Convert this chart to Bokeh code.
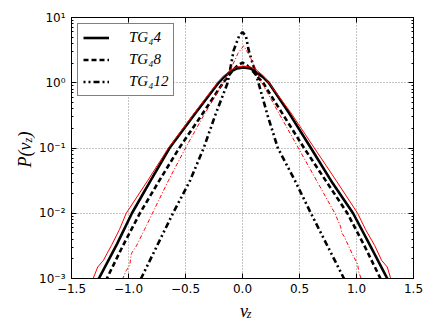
from bokeh.plotting import figure
from bokeh.layouts import row, column
from bokeh.models import (Range1d, LogAxis, LinearAxis, FixedTicker, CustomJSTickFormatter,
                          Legend, LegendItem)
from bokeh.core.properties import value
from bokeh.embed import file_html
from bokeh.resources import INLINE
import math

# ---- data ----
# TG4 4 (black solid)
v_tg4_4 = [-1.31, -1.26, -1.10, -0.97, -0.80, -0.64, -0.42, -0.21, -0.16, -0.10, -0.05, 0.01,
           0.07, 0.12, 0.18, 0.23, 0.41, 0.60, 0.79, 0.97, 1.12, 1.27, 1.31]
p_tg4_4 = [7.1e-4, 1.0e-3, 3.4e-3, 1.0e-2, 3.3e-2, 0.10, 0.33, 1.0, 1.24, 1.50, 1.65, 1.72,
           1.66, 1.45, 1.22, 1.0, 0.34, 0.10, 2.9e-2, 1.0e-2, 3.2e-3, 1.0e-3, 7.1e-4]

# TG4 8 (black dashed)
v_tg4_8 = [-1.23, -1.19, -1.05, -0.90, -0.73, -0.555, -0.36, -0.17, -0.08, -0.04, 0.0, 0.04,
           0.08, 0.18, 0.36, 0.54, 0.73, 0.92, 1.07, 1.21, 1.25]
p_tg4_8 = [7.1e-4, 1.0e-3, 3.16e-3, 1.0e-2, 3.16e-2, 0.10, 0.316, 1.0, 1.58, 1.85, 2.04, 1.85,
           1.58, 1.0, 0.316, 0.10, 3.16e-2, 1.0e-2, 3.16e-3, 1.0e-3, 7.1e-4]

# TG4 12 (black dash-dot-dot)
v_tg4_12 = [-0.93, -0.89, -0.75, -0.61, -0.46, -0.34, -0.24, -0.13, -0.077, -0.03, 0.0, 0.03,
            0.054, 0.14, 0.22, 0.31, 0.46, 0.60, 0.745, 0.89, 0.93]
p_tg4_12 = [7.1e-4, 1.0e-3, 3.16e-3, 1.0e-2, 3.16e-2, 0.10, 0.316, 1.0, 3.16, 5.2, 6.0, 5.2,
            3.16, 1.0, 0.316, 0.10, 3.16e-2, 1.0e-2, 3.16e-3, 1.0e-3, 7.1e-4]

# red solid (companion of TG4 4)
v_red_a = [-1.35, -1.31, -1.27, -1.22, -1.15, -1.08, -1.02, -0.83, -0.65, -0.43, -0.22, -0.16,
           -0.10, -0.05, 0.01, 0.07, 0.12, 0.18, 0.23, 0.42, 0.63, 0.82, 1.01, 1.08, 1.16, 1.22,
           1.27, 1.30, 1.34]
p_red_a = [7.1e-4, 1.0e-3, 1.5e-3, 1.9e-3, 3.2e-3, 5.6e-3, 1.0e-2, 3.2e-2, 0.10, 0.33, 1.0, 1.29,
           1.58, 1.74, 1.80, 1.74, 1.58, 1.29, 1.0, 0.355, 0.10, 3.2e-2, 1.0e-2, 5.6e-3, 3.2e-3,
           1.9e-3, 1.5e-3, 1.0e-3, 7.1e-4]

# red dash-dot (companion of TG4 12)
v_red_b = [-1.08, -1.05, -1.02, -0.99, -0.975, -0.95, -0.93, -0.86, -0.79, -0.65, -0.50, -0.34,
           -0.17, -0.09, -0.04, 0.01, 0.06, 0.11, 0.17, 0.33, 0.49, 0.65, 0.81, 0.86, 0.87, 0.89,
           0.93, 0.97, 1.01, 1.02, 1.04, 1.07]
p_red_b = [7.1e-4, 1.0e-3, 1.32e-3, 1.58e-3, 2.4e-3, 2.82e-3, 3.16e-3, 5.6e-3, 1.0e-2, 3.16e-2,
           0.10, 0.316, 1.0, 1.82, 2.82, 3.69, 2.63, 1.72, 1.0, 0.316, 0.10, 3.16e-2, 1.0e-2,
           6.3e-3, 5.0e-3, 4.47e-3, 3.16e-3, 2.24e-3, 1.66e-3, 1.26e-3, 1.0e-3, 7.1e-4]

x_ticks = [-1.5, -1.0, -0.5, 0.0, 0.5, 1.0, 1.5]
y_ticks = [1e-3, 1e-2, 1e-1, 1e0, 1e1]
y_minor = [m * 10.0 ** e for e in (-3, -2, -1, 0) for m in range(2, 10)]
legend_labels = ["TG\u20844", "TG\u20848", "TG\u208412"]
x_title = ["v", "z"]
y_title = ["P(v", "z", ")"]

LEFT_W = 36

# ---- main figure ----
p = figure(width=436 - LEFT_W, height=300, x_range=Range1d(-1.5, 1.5), y_range=Range1d(1e-3, 10),
           y_axis_type="log", output_backend="svg", toolbar_location=None,
           min_border_left=68 - LEFT_W, min_border_right=23, min_border_top=17,
           min_border_bottom=22, x_axis_location=None, y_axis_location=None)
p.background_fill_color = "white"
p.border_fill_color = "white"
p.outline_line_color = "black"
p.outline_line_width = 1

xt = FixedTicker(ticks=x_ticks, minor_ticks=[])
yt = FixedTicker(ticks=y_ticks, minor_ticks=y_minor)

xfmt = CustomJSTickFormatter(code="return (tick < 0 ? '\u2212' : '') + Math.abs(tick).toFixed(1);")
yfmt = CustomJSTickFormatter(code="""
const e = Math.round(Math.log10(tick));
const m = {'-':'\u207b','0':'\u2070','1':'\u00b9','2':'\u00b2','3':'\u00b3'};
return '10' + String(e).split('').map(c => m[c]).join('');
""")
blank = CustomJSTickFormatter(code="return '';")

def style(ax):
    ax.major_tick_in = 5
    ax.major_tick_out = 0
    ax.minor_tick_in = 2
    ax.minor_tick_out = 0
    ax.axis_line_color = "black"
    ax.major_tick_line_color = "black"
    ax.minor_tick_line_color = "black"
    ax.major_label_text_font = "DejaVu Sans"
    ax.major_label_text_font_size = "12px"
    ax.major_label_text_color = "black"

xb = LinearAxis(ticker=xt, formatter=xfmt, major_label_standoff=5)
style(xb)
p.add_layout(xb, "below")
xa = LinearAxis(ticker=xt, formatter=blank, major_label_standoff=0)
style(xa)
xa.major_label_text_font_size = "0px"
p.add_layout(xa, "above")
yl = LogAxis(ticker=yt, formatter=yfmt, major_label_standoff=6)
style(yl)
p.add_layout(yl, "left")
yr = LogAxis(ticker=yt, formatter=blank, major_label_standoff=0)
style(yr)
yr.major_label_text_font_size = "0px"
p.add_layout(yr, "right")

p.xgrid.ticker = xt
p.ygrid.ticker = yt
for g in (p.xgrid, p.ygrid):
    g.grid_line_color = "#8c8c8c"
    g.grid_line_dash = "1 2"
    g.grid_line_width = 1

r4 = p.line(v_tg4_4, p_tg4_4, line_color="black", line_width=2.6)
r8 = p.line(v_tg4_8, p_tg4_8, line_color="black", line_width=2.6, line_dash="5 3")
r12 = p.line(v_tg4_12, p_tg4_12, line_color="black", line_width=2.6, line_dash="2 3 2 3 6 3")
p.line(v_red_a, p_red_a, line_color="red", line_width=1)
p.line(v_red_b, p_red_b, line_color="red", line_width=1, line_dash="4 2 1 2")

legend = Legend(items=[LegendItem(label=legend_labels[0], renderers=[r4]),
                       LegendItem(label=legend_labels[1], renderers=[r8]),
                       LegendItem(label=legend_labels[2], renderers=[r12])],
                location="top_left", margin=6, padding=5, spacing=5,
                glyph_width=26, glyph_height=17, label_height=17, label_standoff=20,
                label_text_font="Liberation Serif", label_text_font_style="italic",
                label_text_font_size="15px", label_text_color="black",
                border_line_color="black", border_line_width=1,
                background_fill_color="white", background_fill_alpha=1)
p.add_layout(legend, "center")

# ---- title strips (text-only figures) ----
def strip(w, h):
    f = figure(width=w, height=h, x_range=Range1d(0, w), y_range=Range1d(0, h),
               output_backend="svg", toolbar_location=None, min_border=0,
               x_axis_location=None, y_axis_location=None)
    f.outline_line_color = None
    f.xgrid.visible = False
    f.ygrid.visible = False
    f.background_fill_color = "white"
    f.border_fill_color = "white"
    return f

tf = value("Liberation Serif")
left = strip(LEFT_W, 327)
left.text(x=[24], y=[160], text=[y_title[0]], angle=math.pi / 2, text_font=tf,
          text_font_style="italic", text_font_size=value("18px"),
          text_baseline="alphabetic", text_align="left", text_color="black")
left.text(x=[27], y=[185], text=[y_title[1]], angle=math.pi / 2, text_font=tf,
          text_font_style="italic", text_font_size=value("12px"),
          text_baseline="alphabetic", text_align="left", text_color="black")
left.text(x=[24], y=[190], text=[y_title[2]], angle=math.pi / 2, text_font=tf,
          text_font_style="italic", text_font_size=value("18px"),
          text_baseline="alphabetic", text_align="left", text_color="black")

bottom = strip(436 - LEFT_W, 27)
bottom.text(x=[233 - LEFT_W], y=[17], text=[x_title[0]], text_font=tf, text_font_style="italic",
            text_font_size=value("18px"), text_baseline="alphabetic", text_align="left",
            text_color="black")
bottom.text(x=[241 - LEFT_W], y=[14], text=[x_title[1]], text_font=tf, text_font_style="italic",
            text_font_size=value("12px"), text_baseline="alphabetic", text_align="left",
            text_color="black")

layout = row(left, column(p, bottom, spacing=0), spacing=0)
open("out.html", "w").write(file_html(layout, INLINE))
